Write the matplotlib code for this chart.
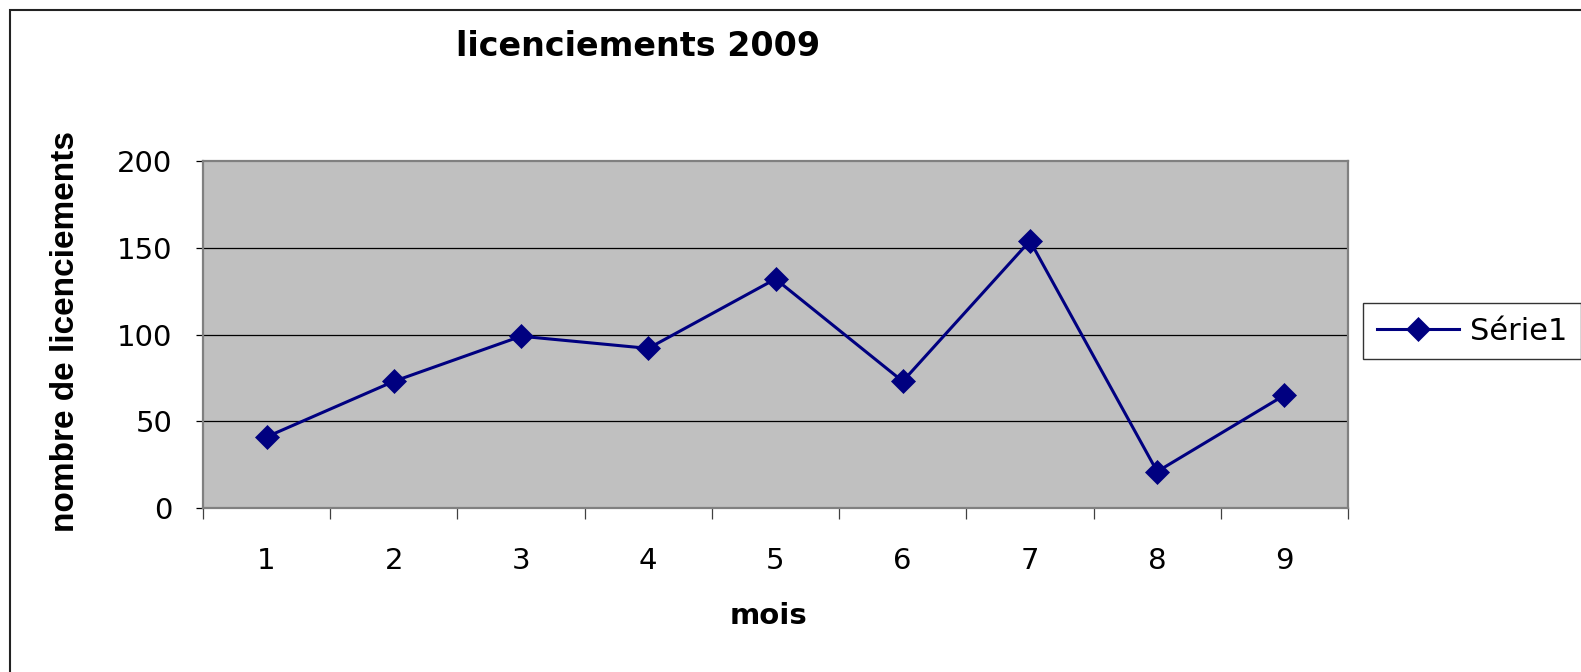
import matplotlib
matplotlib.use("Agg")
import matplotlib.pyplot as plt
from matplotlib import font_manager as fm
from matplotlib.patches import Rectangle
import numpy as np

# ---- data ----
months = [1, 2, 3, 4, 5, 6, 7, 8, 9]
licenciements = [41, 73, 99, 92, 132, 73, 154, 21, 65]
series_name = "Série1"
title = "licenciements 2009"
xlabel = "mois"
ylabel = "nombre de licenciements"
yticks = [0, 50, 100, 150, 200]

W, H = 1581, 672
fig = plt.figure(figsize=(W / 100, H / 100), dpi=100)
fig.patch.set_facecolor("white")

installed = {f.name for f in fm.fontManager.ttflist}
narrow = "Liberation Sans Narrow" in installed

# outer chart border (top and left visible)
fig.patches.append(Rectangle((10 / W, -0.2), 1.2, 1.2 - 10 / H,
                             transform=fig.transFigure, fill=False,
                             edgecolor="#222222", linewidth=1.5))

left, right = 203 / W, 1348 / W
bottom, top = 1 - 508 / H, 1 - 161 / H
ax = fig.add_axes([left, bottom, right - left, top - bottom])
ax.set_facecolor("#C0C0C0")

navy = "#000080"
ax.plot(months, licenciements, color=navy, linewidth=2.2, marker="D",
        markersize=12, markerfacecolor=navy, markeredgecolor=navy,
        markeredgewidth=0.5, label=series_name, zorder=3)

ax.set_xlim(0.5, 9.5)
ax.set_ylim(0, 200)

# grid
for y in yticks[1:-1]:
    ax.axhline(y, color="black", linewidth=0.9, zorder=1)

for s in ax.spines.values():
    s.set_color("#808080")
    s.set_linewidth(1.6)

ax.set_yticks(yticks)
ax.set_yticklabels([str(v) for v in yticks])
ax.tick_params(axis="y", direction="out", length=5, width=0.9, color="black",
               pad=17, labelsize=21, labelcolor="black")
ax.set_xticks(months)
ax.set_xticklabels([str(m) for m in months])
ax.tick_params(axis="x", which="major", length=0, pad=28, labelsize=21,
               labelcolor="black")
ax.set_xticks(np.arange(0.5, 10, 1), minor=True)
ax.tick_params(axis="x", which="minor", direction="out", length=8, width=0.9,
               color="#404040")
ax.tick_params(axis="y", which="minor", length=0)

for lab in ax.get_xticklabels() + ax.get_yticklabels():
    lab.set_family("DejaVu Sans")

# titles and labels
fig.text(638 / W, 1 - 46 / H, title, ha="center", va="center",
         fontsize=24, fontweight="bold", family="DejaVu Sans")
fig.text(768 / W, 1 - 616 / H, xlabel, ha="center", va="center",
         fontsize=21, fontweight="bold", family="DejaVu Sans")
if narrow:
    fig.text(66 / W, 1 - 331 / H, ylabel, ha="center", va="center",
             rotation=90, fontsize=28, fontweight="bold",
             family="Liberation Sans Narrow")
else:
    fig.text(66 / W, 1 - 331 / H, ylabel, ha="center", va="center",
             rotation=90, fontsize=24, fontweight="bold",
             family="Liberation Sans")

leg = fig.legend(loc="center left", bbox_to_anchor=(1363 / W, 1 - 331 / H),
                 bbox_transform=fig.transFigure, frameon=True, fancybox=False,
                 borderaxespad=0, borderpad=0.45, handlelength=2.7,
                 handletextpad=0.35, prop={"family": "DejaVu Sans", "size": 22})
leg.get_frame().set_edgecolor("black")
leg.get_frame().set_linewidth(1.0)

fig.savefig("out.png", dpi=100, facecolor="white")
